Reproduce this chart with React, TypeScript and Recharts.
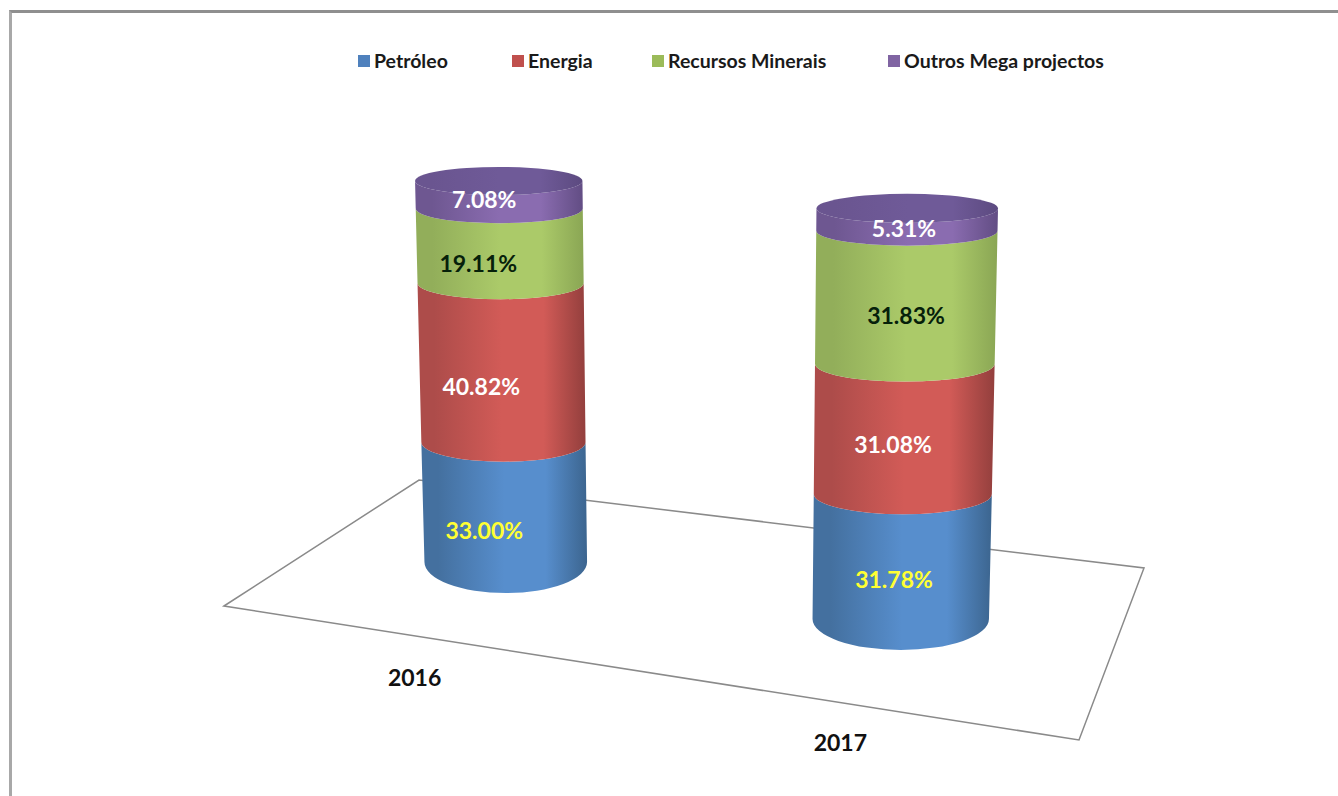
/**
 * Stacked 3D-look cylinders, 2016 vs 2017.
 * Each year has its own hidden axes because the perspective gives each cylinder its own scale.
 */
import { Bar, BarChart, LabelList, Legend, XAxis, YAxis } from 'recharts'

const YEARS = ['2016', '2017']
const PETROLEO = [33.0, 31.78]
const ENERGIA = [40.82, 31.08]
const RECURSOS = [19.11, 31.83]
const OUTROS = [7.08, 5.31]

const SERIES = [
  { name: 'Petróleo', values: PETROLEO, color: '#4f81bd', grad: 'gradBlue', labelColor: '#ffff33' },
  { name: 'Energia', values: ENERGIA, color: '#c0504d', grad: 'gradRed', labelColor: '#ffffff' },
  { name: 'Recursos Minerais', values: RECURSOS, color: '#9bbb59', grad: 'gradGreen', labelColor: '#06200a' },
  { name: 'Outros Mega projectos', values: OUTROS, color: '#8064a2', grad: 'gradPurple', labelColor: '#ffffff' },
]

const keyOf = (name: string, year: string) => `${name}|${year}`

const rows = YEARS.map((year, i) => {
  const row: Record<string, string | number> = { year }
  for (const s of SERIES) row[keyOf(s.name, year)] = s.values[i]
  return row
})

const FONT = 'Lato, sans-serif'
const PLOT = { top: 100, bottom: 700 }

// perspective look of each cylinder
const LOOK: Record<string, { domain: [number, number]; barSize: number; lean: number; midY: number }> = {
  '2016': { domain: [-26.88, 123.87], barSize: 165, lean: 0.0176, midY: 394 },
  '2017': { domain: [-11.71, 128.8], barSize: 179, lean: -0.0152, midY: 436 },
}

const LABEL_NUDGE: Record<string, [number, number]> = {
  'Petróleo|2016': [-18, 3],
  'Energia|2016': [-21, 6],
  'Recursos Minerais|2016': [-24, 2],
  'Outros Mega projectos|2016': [-18, -10],
  'Petróleo|2017': [-10, -3],
  'Energia|2017': [-11, -4],
  'Recursos Minerais|2017': [2, 1],
  'Outros Mega projectos|2017': [0, -6.5],
}

const TICK_NUDGE: Record<string, [number, number]> = {
  '2016': [-88, -31],
  '2017': [-64, 34],
}

const LEGEND_LEFT = [358, 512, 652, 888]

const FLOOR = '224,606 419,480 1144,568 1079,740'

const BASE_OPENNESS = 31
const openness = (py: number) => 14 + (py - 195) * 0.02

function cylinder(year: string, grad: string, isBase: boolean, isTop: boolean) {
  const { lean, midY } = LOOK[year]
  return (props: any) => {
    const { x, y, width, height } = props
    if (!height || height <= 0) return <g />
    const cx = x + width / 2
    const centre = (py: number) => cx + lean * (py - midY)
    const half = (py: number) => width / 2 + 0.006 * (midY - py)
    const yt = y
    const yb = y + height
    const rt = openness(yt)
    const rb = isBase ? BASE_OPENNESS : openness(yb)
    const d = [
      `M ${centre(yt) - half(yt)} ${yt - rt}`,
      `A ${half(yt)} ${rt} 0 0 0 ${centre(yt) + half(yt)} ${yt - rt}`,
      `L ${centre(yb) + half(yb)} ${yb - rb}`,
      `A ${half(yb)} ${rb} 0 0 1 ${centre(yb) - half(yb)} ${yb - rb}`,
      'Z',
    ].join(' ')
    return (
      <g>
        <path d={d} fill={`url(#${grad})`} />
        {isTop ? (
          <ellipse cx={centre(yt)} cy={yt - rt} rx={half(yt)} ry={rt} fill="url(#gradCap)" />
        ) : null}
      </g>
    )
  }
}

function sideGradient(id: string, edgeL: string, mid: string, edgeR: string) {
  return (
    <linearGradient id={id} x1="0" y1="0" x2="1" y2="0">
      <stop offset="0%" stopColor={edgeL} />
      <stop offset="10%" stopColor={edgeL} />
      <stop offset="50%" stopColor={mid} />
      <stop offset="75%" stopColor={mid} />
      <stop offset="100%" stopColor={edgeR} />
    </linearGradient>
  )
}

function CategoryTick({ x, y, payload }: any) {
  const [dx, dy] = TICK_NUDGE[payload.value]
  return (
    <text
      x={x + dx}
      y={y + dy}
      textAnchor="middle"
      dominantBaseline="central"
      fontFamily={FONT}
      fontWeight={700}
      fontSize={23}
      fill="#111"
    >
      {payload.value}
    </text>
  )
}

function LegendBox({ payload }: any) {
  return (
    <div style={{ position: 'relative', height: 0 }}>
      {SERIES.map((s, i) => {
        const item = (payload ?? []).find((p: any) => p.value === s.name)
        if (!item) return null
        return (
          <div
            key={s.name}
            style={{
              position: 'absolute',
              left: LEGEND_LEFT[i],
              top: 49,
              display: 'flex',
              alignItems: 'center',
              whiteSpace: 'nowrap',
              fontFamily: FONT,
              fontWeight: 700,
              fontSize: 19.5,
              lineHeight: '24px',
              color: '#1a1a1a',
            }}
          >
            <span style={{ width: 12, height: 12, marginRight: 4, background: item.color }} />
            {item.value}
          </div>
        )
      })}
    </div>
  )
}

export default function App() {
  return (
    <div
      style={{
        position: 'absolute',
        left: 0,
        top: 0,
        width: 1338,
        height: 796,
        overflow: 'hidden',
        background: '#fff',
      }}
    >
      <div
        style={{
          position: 'absolute',
          left: 9,
          top: 10,
          width: 1329,
          height: 786,
          boxSizing: 'border-box',
          borderTop: '3px solid #8f8f8f',
          borderLeft: '3px solid #a8a8a8',
        }}
      />
      <BarChart
        style={{ position: 'absolute', left: 0, top: 0 }}
        width={1338}
        height={796}
        data={rows}
        margin={{ top: PLOT.top, bottom: 796 - PLOT.bottom - 1, left: 301.75, right: 232.75 }}
      >
        <defs>
          {sideGradient('gradBlue', '#44709f', '#578ecd', '#3c658f')}
          {sideGradient('gradRed', '#ad4c4a', '#d25b57', '#933f3d')}
          {sideGradient('gradGreen', '#92ae5a', '#abca69', '#8aa654')}
          {sideGradient('gradPurple', '#6e5791', '#8a6cb0', '#624d84')}
          {sideGradient('gradCap', '#6a5590', '#6f5a98', '#5c4a80')}
        </defs>
        <polygon points={FLOOR} fill="none" stroke="#8a8a8a" strokeWidth={1.5} />
        {YEARS.map((year, i) => (
          <XAxis
            key={`x${year}`}
            xAxisId={year}
            dataKey="year"
            height={1}
            hide={i !== 0}
            axisLine={false}
            tickLine={false}
            interval={0}
            tick={<CategoryTick />}
          />
        ))}
        {YEARS.map((year) => (
          <YAxis
            key={`y${year}`}
            yAxisId={year}
            hide
            type="number"
            domain={LOOK[year].domain}
            allowDataOverflow
          />
        ))}
        <Legend
          height={0}
          wrapperStyle={{ left: 0, top: 0, width: 1338, height: 0 }}
          content={<LegendBox />}
        />
        {YEARS.flatMap((year) =>
          SERIES.map((s, i) => {
            const dataKey = keyOf(s.name, year)
            const [dx, dy] = LABEL_NUDGE[dataKey]
            return (
              <Bar
                key={dataKey}
                name={s.name}
                dataKey={dataKey}
                xAxisId={year}
                yAxisId={year}
                stackId={year}
                barSize={LOOK[year].barSize}
                fill={s.color}
                legendType={year === YEARS[0] ? 'square' : 'none'}
                shape={cylinder(year, s.grad, i === 0, i === SERIES.length - 1)}
                isAnimationActive={false}
              >
                <LabelList
                  dataKey={dataKey}
                  content={(p: any) =>
                    p.value == null ? null : (
                      <text
                        x={p.x + p.width / 2 + dx}
                        y={p.y + p.height / 2 + dy}
                        textAnchor="middle"
                        dominantBaseline="central"
                        fontFamily={FONT}
                        fontWeight={700}
                        fontSize={23}
                        fill={s.labelColor}
                      >
                        {`${Number(p.value).toFixed(2)}%`}
                      </text>
                    )
                  }
                />
              </Bar>
            )
          }),
        )}
      </BarChart>
    </div>
  )
}
